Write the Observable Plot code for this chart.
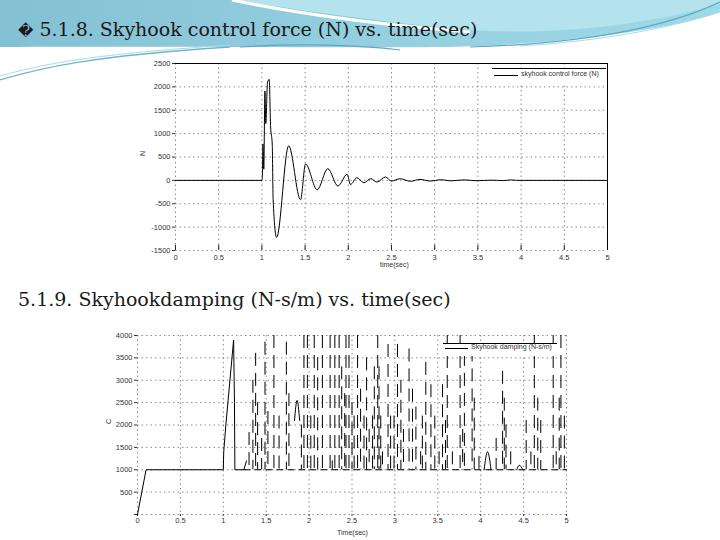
<!DOCTYPE html>
<html><head><meta charset="utf-8">
<script src="https://cdn.jsdelivr.net/npm/d3@7"></script>
<script src="https://cdn.jsdelivr.net/npm/@observablehq/plot@0.6"></script>
<style>
body{margin:0;width:720px;height:540px;position:relative;overflow:hidden;background:#fff;font-family:"Liberation Sans",sans-serif}
.abs{position:absolute}
.title{position:absolute;font-family:"DejaVu Serif",serif;font-size:19px;color:#1a1a1a;white-space:nowrap}
.tiny{position:absolute;font-family:"Liberation Sans",sans-serif;font-size:7px;color:#333;white-space:nowrap}
</style></head>
<body>
<svg class="abs" style="left:0;top:0" width="720" height="540">
  <defs>
    <linearGradient id="g1" x1="0" x2="1" y1="0" y2="0">
      <stop offset="0" stop-color="#84c0d4"/><stop offset="0.5" stop-color="#94cfe0"/><stop offset="1" stop-color="#9fd8e6"/>
    </linearGradient>
  </defs>
  <path d="M0,0 H720 V12 C680,26 600,40 480,46 C400,49 300,46 0,47 Z" fill="url(#g1)"/>
  <path d="M235,0 C300,10 380,22 470,30 C560,36 650,24 720,4 V0 Z" fill="#b4e2ed"/>
  <path d="M232,0 C290,12 370,24 470,32" stroke="#ffffff" stroke-width="3" fill="none"/>
  <path d="M0,80 C40,68 90,56 230,47" stroke="#6fb6cc" stroke-width="1.3" fill="none"/>
  <path d="M0,76 C50,62 100,54 230,45" stroke="#a8dbe8" stroke-width="1" fill="none"/>
  <path d="M240,47 C300,43 360,45 400,50" stroke="#5aa9c2" stroke-width="1.2" fill="none"/>
  <path d="M470,47 C570,44 660,30 720,2" stroke="#5aa9c2" stroke-width="1.2" fill="none"/>
  <path d="M520,46 C620,40 690,22 720,12" stroke="#a8dbe8" stroke-width="1" fill="none"/>
</svg>
<div class="title" style="left:18px;top:18px"><span style="font-size:15px">&#xFFFD;</span> 5.1.8. Skyhook control force (N) vs. time(sec)</div>
<div class="title" style="left:18px;top:288px">5.1.9. Skyhookdamping (N-s/m) vs. time(sec)</div>
<div id="c1" class="abs" style="left:100px;top:50px"></div>
<div id="c2" class="abs" style="left:65px;top:315px"></div>
<script>
// ---------- Chart 1: Skyhook control force ----------
const xTicks = [0, 0.5, 1, 1.5, 2, 2.5, 3, 3.5, 4, 4.5, 5];
const xTickLabels = ["0", "0.5", "1", "1.5", "2", "2.5", "3", "3.5", "4", "4.5", "5"];
const forceTicks = [-1500, -1000, -500, 0, 500, 1000, 1500, 2000, 2500];
const forceTickLabels = ["-1500", "-1000", "-500", "0", "500", "1000", "1500", "2000", "2500"];
const forceT = [0, 1.000, 1.005, 1.012, 1.022, 1.035, 1.045, 1.065, 1.085, 1.095, 1.100, 1.120, 1.130, 1.170, 1.310, 1.447, 1.505, 1.640, 1.763, 1.880, 1.987, 2.025, 2.10, 2.18, 2.26, 2.33, 2.43, 2.50, 2.60, 2.72, 2.83, 2.95, 3.07, 3.18, 3.34, 3.49, 3.65, 3.80, 3.88, 3.95, 5.0];
const forceV = [0, 0, 60, 780, 240, 1910, 1215, 2100, 2160, 1545, 1175, 760, -415, -1220, 740, -415, 350, -200, 250, -120, 130, -87, 58, -50, 36, -36, 72, -15, 36, -20, 20, -15, 15, -10, 10, -8, 5, -5, 10, 0, 0];

// ---------- Chart 2: Skyhook damping ----------
const dampTicks = [0, 500, 1000, 1500, 2000, 2500, 3000, 3500, 4000];
const dampTickLabels = ["", "500", "1000", "1500", "2000", "2500", "3000", "3500", "4000"];
const dampEarlyT = [0, 0.1, 1.0, 1.005, 1.03, 1.12, 1.13, 1.135, 1.24, 1.27];
const dampEarlyV = [0, 1000, 1000, 1400, 2000, 3900, 2500, 1000, 1000, 1200];
const baseT = [1.24, 5.0];
const baseV = [1000, 1000];
const spikeT = [1.30, 1.345, 1.377, 1.40, 1.447, 1.486, 1.52, 1.59, 1.65, 1.735, 1.765, 1.91, 1.94, 1.98, 2.02, 2.06, 2.10, 2.155, 2.245, 2.27, 2.30, 2.35, 2.38, 2.415, 2.43, 2.465, 2.50, 2.525, 2.565, 2.60, 2.64, 2.67, 2.70, 2.74, 2.76, 2.80, 2.815, 2.835, 2.855, 2.92, 2.95, 2.99, 3.03, 3.07, 3.10, 3.165, 3.205, 3.245, 3.30, 3.32, 3.36, 3.42, 3.465, 3.515, 3.555, 3.59, 3.61, 3.67, 3.76, 3.79, 3.81, 3.90, 3.925, 3.98, 4.18, 4.255, 4.275, 4.295, 4.35, 4.53, 4.585, 4.625, 4.665, 4.70, 4.845, 4.88, 4.915, 4.935, 4.975];
const spikePeak = [1830, 3000, 3600, 2500, 1700, 3850, 2300, 4000, 2200, 3850, 2700, 2000, 4000, 4000, 2200, 4000, 3500, 4000, 4000, 1200, 4000, 4000, 3300, 2700, 4000, 4000, 2500, 2200, 4000, 2800, 2200, 3500, 1900, 2200, 3300, 4000, 3300, 2200, 1400, 3800, 2200, 2200, 3800, 3000, 1900, 3700, 2800, 2400, 1400, 2200, 3400, 2900, 2200, 1400, 2900, 2100, 4000, 1400, 4000, 1900, 3600, 3700, 2600, 1300, 1700, 3200, 2600, 2000, 1400, 2100, 1400, 4000, 2600, 2100, 4000, 1400, 2600, 4000, 2200];
const humpId = [1, 1, 1, 2, 2, 2, 3, 3, 3];
const humpT = [1.83, 1.86, 1.89, 4.04, 4.08, 4.12, 4.42, 4.45, 4.49];
const humpV = [2100, 2550, 2100, 1000, 1400, 1000, 1000, 1100, 1000];

const mapOf = (ks, ls) => new Map(ks.map((k, i) => [k, ls[i]]));
const xLab = mapOf(xTicks, xTickLabels);
const fLab = mapOf(forceTicks, forceTickLabels);
const dLab = mapOf(dampTicks, dampTickLabels);
const grid = {stroke: "#666", strokeOpacity: 0.75, strokeDasharray: "1.5,3"};
const axStyle = {fontSize: "7.5px", fontFamily: "Liberation Sans", color: "#333", background: "transparent"};

const force = forceT.map((t, i) => ({t, v: forceV[i]}));
const p1 = Plot.plot({
  width: 520, height: 225, marginLeft: 75, marginRight: 13, marginTop: 13, marginBottom: 25,
  style: axStyle,
  x: {domain: [0, 5], ticks: xTicks, tickFormat: d => xLab.get(d), tickSize: 0, tickPadding: 4, label: null},
  y: {domain: [-1500, 2500], ticks: forceTicks, tickFormat: d => fLab.get(d), tickSize: 3, tickPadding: 2, label: null},
  marks: [
    Plot.ruleY(forceTicks, grid),
    Plot.ruleX(xTicks, grid),
    Plot.ruleX(xTicks, {y1: -1500, y2: -1390, stroke: "#222"}),
    Plot.ruleY([2500], {stroke: "#000"}),
    Plot.ruleX([5], {stroke: "#000"}),
    Plot.line(force, {x: "t", y: "v", curve: "monotone-x", stroke: "#000", strokeWidth: 1})
  ]
});
document.getElementById("c1").appendChild(p1);

const early = dampEarlyT.map((t, i) => ({t, v: dampEarlyV[i]}));
const base = baseT.map((t, i) => ({t, v: baseV[i]}));
const spikes = spikeT.map((t, i) => ({t, p: spikePeak[i]}));
const humps = humpT.map((t, i) => ({t, v: humpV[i], id: humpId[i]}));
const p2 = Plot.plot({
  width: 555, height: 225, marginLeft: 72, marginRight: 54, marginTop: 20, marginBottom: 26,
  style: axStyle,
  x: {domain: [0, 5], ticks: xTicks, tickFormat: d => xLab.get(d), tickSize: 2, tickPadding: 1, label: null},
  y: {domain: [0, 4000], ticks: dampTicks, tickFormat: d => dLab.get(d), tickSize: 3, tickPadding: 2, label: null},
  marks: [
    Plot.ruleY(dampTicks, grid),
    Plot.ruleX(xTicks, grid),
    Plot.line(early, {x: "t", y: "v", stroke: "#000", strokeWidth: 1}),
    Plot.line(base, {x: "t", y: "v", stroke: "#000", strokeWidth: 1, strokeDasharray: "6,5"}),
    Plot.ruleX(spikes, {x: "t", y1: "p", y2: 1000, stroke: "#000", strokeWidth: 1, strokeDasharray: "13,7"}),
    Plot.line(humps, {x: "t", y: "v", z: "id", curve: "monotone-x", stroke: "#000", strokeWidth: 1})
  ]
});
document.getElementById("c2").appendChild(p2);
</script>
<!-- legends and axis titles -->
<div class="abs" style="left:492px;top:68px;width:114px;height:14px;border-top:1px solid #000;background:#fff"></div>
<div class="abs" style="left:494px;top:75px;width:24px;height:0;border-top:1px solid #000"></div>
<div class="tiny" style="left:521px;top:70px">skyhook control force (N)</div>
<div class="tiny" style="left:380px;top:261px">time(sec)</div>
<div class="tiny" style="left:140px;top:150px;transform:rotate(-90deg)">N</div>
<div class="abs" style="left:443px;top:343px;width:114px;height:12px;border-top:1px solid #000;background:#fff"></div>
<div class="abs" style="left:445px;top:348px;width:23px;height:0;border-top:1px solid #000"></div>
<div class="tiny" style="left:471px;top:343px">Skyhook damping (N-s/m)</div>
<div class="tiny" style="left:337px;top:529px">Time(sec)</div>
<div class="tiny" style="left:106px;top:418px;transform:rotate(-90deg)">C</div>
</body></html>
